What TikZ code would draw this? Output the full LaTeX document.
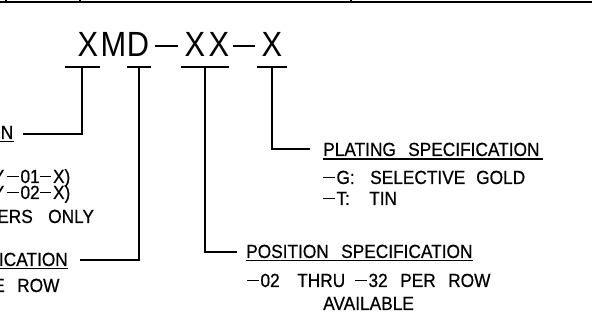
\documentclass[tikz,border=0pt]{standalone}
\usepackage{fontspec}
\setmainfont{Liberation Sans}
\newfontfamily\titlefont[FakeStretch=0.88]{Liberation Sans}
\newfontfamily\lblfont[FakeStretch=0.91,FakeBold=0.6]{Liberation Sans}
\newcommand\dsh{\rule[0.3em]{0.6em}{0.08em}\kern0.1em}
\begin{document}
\begin{tikzpicture}[x=1pt,y=-1pt,
  ln/.style={line width=1.8pt},
  lbl/.style={font=\lblfont\fontsize{19}{20}\selectfont, anchor=base west, inner sep=0pt, text height=13pt, text depth=1pt},
  lble/.style={lbl, anchor=base east},
  ttl/.style={font=\titlefont\fontsize{35}{36}\selectfont, anchor=base, inner sep=0pt}]
\useasboundingbox (0,0) rectangle (592,328);
\clip (0,0) rectangle (592,328);
% top border
\coordinate (tl) at (-5,2.5); \coordinate (tr) at (600,2.5);
\draw[line width=2pt] (tl) -- (tr);
\coordinate (k1a) at (6,-2); \coordinate (k1b) at (6,2.5);
\coordinate (k2a) at (80,-2); \coordinate (k2b) at (80,2.5);
\coordinate (k3a) at (351,-2); \coordinate (k3b) at (351,2.5);
\draw[ln] (k1a) -- (k1b); \draw[ln] (k2a) -- (k2b); \draw[ln] (k3a) -- (k3b);
% title
\node[ttl] (t1) at (88,57) {X};
\node[ttl] (t2) at (113.5,57) {M};
\node[ttl] (t3) at (138,57) {D};
\coordinate (d1a) at (155,46.5); \coordinate (d1b) at (178,46.5);
\draw[line width=2pt] (d1a) -- (d1b);
\node[ttl] (t5) at (195,57) {X};
\node[ttl] (t6) at (219,57) {X};
\coordinate (d2a) at (233,46.5); \coordinate (d2b) at (255,46.5);
\draw[line width=2pt] (d2a) -- (d2b);
\node[ttl] (t8) at (272,57) {X};
% bars and stems
\coordinate (b1l) at (65,67); \coordinate (b1r) at (100,67);
\coordinate (b2l) at (127,67); \coordinate (b2r) at (151,67);
\coordinate (b3l) at (181,67); \coordinate (b3r) at (229,67);
\coordinate (b4l) at (257,67); \coordinate (b4r) at (287,67);
\draw[ln] (b1l) -- (b1r); \draw[ln] (b2l) -- (b2r);
\draw[ln] (b3l) -- (b3r); \draw[ln] (b4l) -- (b4r);
\coordinate (s1) at (82,67); \coordinate (c1) at (82,134); \coordinate (e1) at (23,134);
\coordinate (s2) at (139,67); \coordinate (c2) at (139,260); \coordinate (e2) at (80,260);
\coordinate (s3) at (205,67); \coordinate (c3) at (205,252); \coordinate (e3) at (237,252);
\coordinate (s4) at (272,67); \coordinate (c4) at (272,149); \coordinate (e4) at (310,149);
\draw[ln] (s1) -- (c1) -- (e1);
\draw[ln] (s2) -- (c2) -- (e2);
\draw[ln] (s3) -- (c3) -- (e3);
\draw[ln] (s4) -- (c4) -- (e4);
% left labels (cut off by the frame)
\node[lble] (sd) at (13.5,139) {SERIES DESIGNATION};
\draw[line width=1.3pt] ([yshift=-2.5pt]sd.base west) -- ([yshift=-2.5pt]sd.base east);
\node[lble] (l2a) at (4.5,183) {XMY};
\node[lbl] (l2b) at (7,183) {\dsh 01\dsh X)};
\node[lble] (l3a) at (4.5,199) {XMY};
\node[lbl] (l3b) at (7,199) {\dsh 02\dsh X)};
\node[lble] (l4a) at (33,223) {HEADERS};
\node[lbl] (l4b) at (48,223) {ONLY};
\node[lble] (rs) at (68,266) {ROW SPECIFICATION};
\draw[line width=1.3pt] ([yshift=-2.5pt]rs.base west) -- ([yshift=-2.5pt]rs.base east);
\node[lble] (l6a) at (5,292) {SINGLE};
\node[lbl] (l6b) at (17,292) {ROW};
% position specification
\node[lbl] (p1) at (246,258) {POSITION};
\node[lbl] (p2) at (341,258) {SPECIFICATION};
\coordinate (pu1) at (246,260.5); \coordinate (pu2) at (473,260.5);
\draw[line width=1.3pt] (pu1) -- (pu2);
\node[lbl] (q1) at (247,287) {\dsh 02};
\node[lbl] (q2) at (297,287) {THRU};
\node[lbl] (q3) at (355,287) {\dsh 32};
\node[lbl] (q4) at (400,287) {PER};
\node[lbl] (q5) at (448,287) {ROW};
\node[lbl] (q6) at (323,310) {AVAILABLE};
% plating specification
\node[lbl] (g1) at (323,156) {PLATING};
\node[lbl] (g2) at (408,156) {SPECIFICATION};
\coordinate (gu1) at (323,159); \coordinate (gu2) at (543,159);
\draw[line width=1.3pt] (gu1) -- (gu2);
\node[lbl] (h1) at (323,184) {\dsh G:};
\node[lbl] (h2) at (370,184) {SELECTIVE};
\node[lbl] (h3) at (476,184) {GOLD};
\node[lbl] (i1) at (323,205) {\dsh T:};
\node[lbl] (i2) at (369,205) {TIN};
\end{tikzpicture}
\end{document}
